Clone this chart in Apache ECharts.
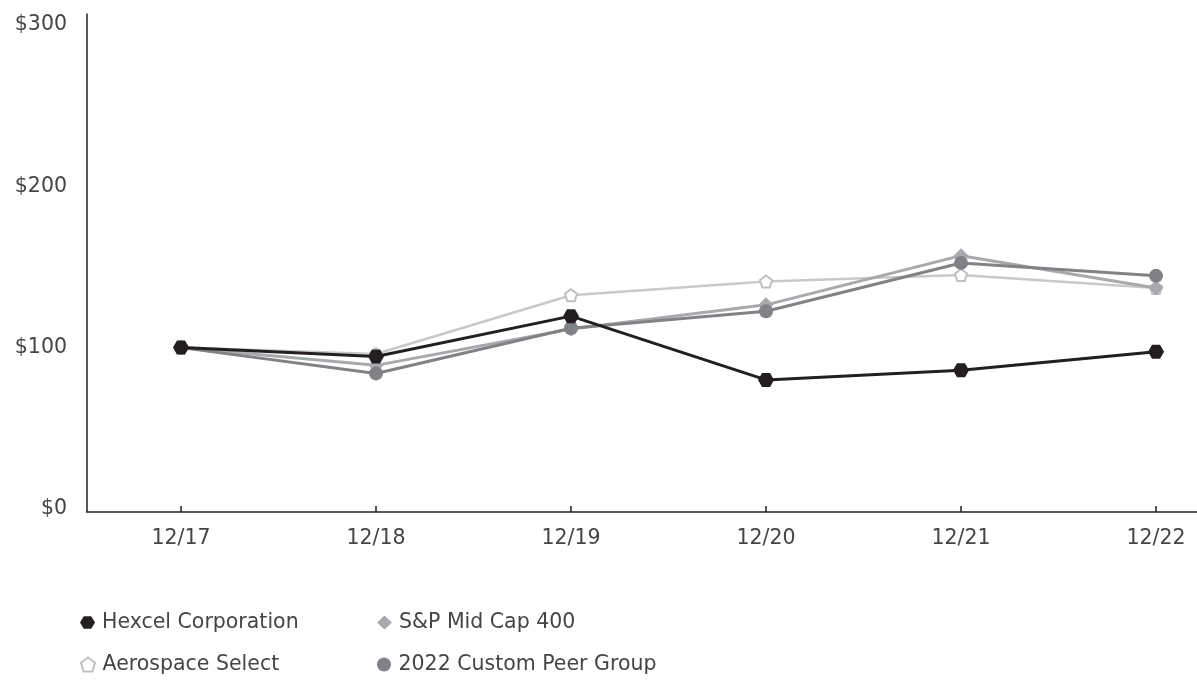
<!DOCTYPE html>
<html>
<head>
<meta charset="utf-8">
<script src="https://cdn.jsdelivr.net/npm/echarts@6/dist/echarts.min.js"></script>
<style>
  html, body { margin: 0; padding: 0; background: #fff; }
  #mainView { width: 1197px; height: 681px; }
</style>
</head>
<body>
<div id="mainView"></div>
<script>
var periods = ['12/17', '12/18', '12/19', '12/20', '12/21', '12/22'];
var yTicks = [0, 100, 200, 300];
var hexcel = [100, 94.5, 119.5, 80, 86, 97.5];
var spMidCap = [100, 89, 111.5, 126.5, 157, 137];
var aerospace = [100, 96, 132.5, 141, 145, 137];
var peerGroup = [100, 84, 112, 122.5, 152.5, 144.5];

var HEX = 'path://M0,5 L3,0 L9,0 L12,5 L9,10 L3,10 Z';
var PENT = 'path://M5,0 L10,3.8 L8.1,10 L1.9,10 L0,3.8 Z';
var FONT = 'DejaVu Sans';
var TXT = '#454545';

function pairs(arr) {
    return arr.map(function (v, i) { return [i, v]; });
}

function legendAt(name, icon, left, top) {
    return {
        data: [{ name: name, icon: icon }],
        left: left,
        top: top,
        itemWidth: 15,
        itemHeight: 14,
        itemGap: 0,
        selectedMode: false,
        textStyle: { fontFamily: FONT, fontSize: 20.5, color: TXT, padding: [0, 0, 0, 2] }
    };
}

var chart = echarts.init(document.getElementById('mainView'));
chart.setOption({
    animation: false,
    legend: [
        legendAt('Hexcel Corporation', HEX, 75, 607),
        legendAt('S&P Mid Cap 400', 'diamond', 372, 607),
        legendAt('Aerospace Select', PENT, 75, 649),
        legendAt('2022 Custom Peer Group', 'circle', 372, 649)
    ],
    grid: { left: 87, right: 0, top: 14, bottom: 169 },
    xAxis: {
        type: 'value',
        min: -0.482,
        max: 5.21,
        splitLine: { show: false },
        axisLine: { onZero: false, lineStyle: { color: '#231f20', width: 1.5 } },
        axisTick: { show: true, inside: true, length: 6, customValues: [0, 1, 2, 3, 4, 5],
                    lineStyle: { color: '#231f20', width: 1.5 } },
        axisLabel: {
            customValues: [0, 1, 2, 3, 4, 5],
            margin: 16,
            fontFamily: FONT, fontSize: 20.5, color: TXT,
            formatter: function (v) { return periods[Math.round(v)]; }
        }
    },
    yAxis: {
        type: 'value',
        min: -1.9,
        max: 306.8,
        splitLine: { show: false },
        axisLine: { show: true, onZero: false, lineStyle: { color: '#231f20', width: 1.5 } },
        axisTick: { show: false },
        axisLabel: {
            customValues: yTicks,
            margin: 20,
            fontFamily: FONT, fontSize: 20.5, color: TXT,
            formatter: function (v) { return '$' + v; }
        }
    },
    series: [
        {
            name: 'Aerospace Select',
            type: 'line',
            data: pairs(aerospace),
            symbol: PENT,
            symbolSize: 12,
            z: 2,
            lineStyle: { color: '#c9c9c9', width: 2.5 },
            itemStyle: { color: '#ffffff', borderColor: '#c0c0c0', borderWidth: 2 }
        },
        {
            name: 'S&P Mid Cap 400',
            type: 'line',
            data: pairs(spMidCap),
            symbol: 'diamond',
            symbolSize: 15,
            z: 3,
            lineStyle: { color: '#a7a9ac', width: 3 },
            itemStyle: { color: '#a7a9ac' }
        },
        {
            name: '2022 Custom Peer Group',
            type: 'line',
            data: pairs(peerGroup),
            symbol: 'circle',
            symbolSize: 14,
            z: 4,
            lineStyle: { color: '#808285', width: 3 },
            itemStyle: { color: '#808285' }
        },
        {
            name: 'Hexcel Corporation',
            type: 'line',
            data: pairs(hexcel),
            symbol: HEX,
            symbolSize: [16, 14],
            z: 5,
            lineStyle: { color: '#231f20', width: 3 },
            itemStyle: { color: '#231f20' }
        }
    ]
});
</script>
</body>
</html>
